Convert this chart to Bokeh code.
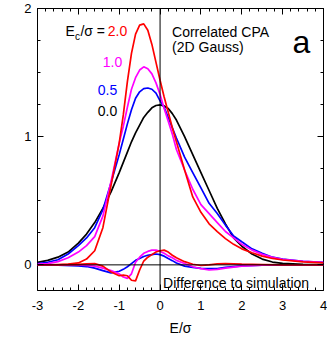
import math
from bokeh.plotting import figure
from bokeh.models import Range1d, Span, Label, LinearAxis, SingleIntervalTicker
from bokeh.embed import file_html
from bokeh.resources import INLINE

# ---- data ----
E_od = [-3.0, -2.75, -2.5, -2.25, -2.0, -1.8, -1.6, -1.4, -1.2, -1.0, -0.9, -0.8, -0.7,
        -0.6, -0.5, -0.4, -0.3, -0.2, -0.1, 0.0, 0.1, 0.2, 0.3, 0.4, 0.6, 0.8, 1.0,
        1.2, 1.4, 1.6, 1.8, 2.0, 2.25, 2.5, 2.75, 3.0, 3.5, 4.0]

od_ec00 = [0.02, 0.035, 0.06, 0.10, 0.17, 0.24, 0.33, 0.44, 0.57, 0.72, 0.80, 0.88, 0.96,
           1.03, 1.09, 1.15, 1.19, 1.225, 1.243, 1.248, 1.24, 1.22, 1.18, 1.13, 1.00, 0.86, 0.72,
           0.58, 0.44, 0.32, 0.21, 0.145, 0.085, 0.045, 0.022, 0.012, 0.004, 0.002]

od_ec05 = [0.01, 0.02, 0.04, 0.085, 0.15, 0.21, 0.29, 0.43, 0.64, 0.86, 0.98, 1.10, 1.21,
           1.30, 1.35, 1.375, 1.38, 1.37, 1.34, 1.28, 1.23, 1.15, 1.07, 0.99, 0.84, 0.72, 0.60,
           0.48, 0.40, 0.31, 0.225, 0.18, 0.125, 0.09, 0.06, 0.045, 0.028, 0.02]

od_ec10 = [0.005, 0.01, 0.025, 0.055, 0.10, 0.15, 0.22, 0.38, 0.65, 0.95, 1.08, 1.23, 1.37,
           1.46, 1.52, 1.545, 1.53, 1.49, 1.42, 1.33, 1.22, 1.12, 1.02, 0.90, 0.74, 0.59, 0.47,
           0.40, 0.33, 0.26, 0.21, 0.16, 0.115, 0.082, 0.058, 0.043, 0.028, 0.02]

od_ec20 = [0.0, 0.0, 0.003, 0.006, 0.015, 0.045, 0.11, 0.29, 0.62, 0.95, 1.17, 1.43, 1.65,
           1.80, 1.87, 1.88, 1.83, 1.72, 1.58, 1.44, 1.31, 1.19, 1.07, 0.96, 0.74, 0.53, 0.41,
           0.32, 0.26, 0.205, 0.16, 0.125, 0.095, 0.068, 0.05, 0.038, 0.024, 0.016]

E_diff = [-3.0, -2.5, -2.0, -1.8, -1.6, -1.4, -1.2, -1.0, -0.9, -0.8, -0.7, -0.6, -0.5,
          -0.4, -0.3, -0.2, -0.1, 0.0, 0.1, 0.2, 0.3, 0.4, 0.6, 0.8, 1.0, 1.2, 1.4, 1.6,
          2.0, 2.5, 3.0, 4.0]

diff_ec20 = [0, 0, 0.004, 0.008, 0.01, -0.01, -0.055, -0.085, -0.08, -0.085, -0.12, -0.125, -0.04,
             0.03, 0.06, 0.08, 0.10, 0.11, 0.115, 0.10, 0.075, 0.055, 0.025, 0.005, -0.005, 0.0, 0.008, 0.01,
             0.006, 0.003, 0, 0]
diff_ec10 = [0, 0, 0, -0.005, -0.01, -0.025, -0.045, -0.07, -0.095, -0.105, -0.07, 0.02, 0.06,
             0.09, 0.105, 0.115, 0.115, 0.105, 0.09, 0.07, 0.055, 0.035, 0.01, -0.015, -0.03, -0.04, -0.035, -0.025,
             -0.01, -0.003, 0, 0]
diff_ec05 = [0, -0.002, -0.008, -0.013, -0.025, -0.045, -0.063, -0.05, -0.035, -0.015, 0.01, 0.035, 0.05,
             0.065, 0.075, 0.08, 0.085, 0.08, 0.068, 0.05, 0.033, 0.015, -0.01, -0.02, -0.027, -0.03, -0.03, -0.02,
             -0.008, -0.003, 0, 0]

ec_labels = ["2.0", "1.0", "0.5", "0.0"]
ec_colors = ["#ff0000", "#ff00ff", "#0000ff", "#000000"]
ec_label_x = [-0.805, -0.927, -1.049, -1.049]
ec_label_y = [1.802, 1.556, 1.341, 1.18]
x_tick_text = {-3: "-3", -2: "-2", -1: "-1", 0: "0", 1: "1", 2: "2", 3: "3", 4: "4"}

FONT = "Liberation Sans"

p = figure(width=327, height=338, x_range=Range1d(-3, 4), y_range=Range1d(-0.2, 2),
           output_backend="svg", toolbar_location=None,
           min_border_left=37, min_border_right=4, min_border_top=8, min_border_bottom=46)
p.grid.visible = False
p.outline_line_color = "black"
p.outline_line_width = 1
p.background_fill_color = "white"
p.border_fill_color = "white"

p.xaxis.ticker = SingleIntervalTicker(interval=1, num_minor_ticks=5)
p.yaxis.ticker = SingleIntervalTicker(interval=1, num_minor_ticks=4)
p.xaxis.major_label_overrides = x_tick_text

for ax in [p.xaxis[0], p.yaxis[0]]:
    ax.axis_line_color = None
    ax.major_tick_in = 6
    ax.major_tick_out = 0
    ax.minor_tick_in = 3
    ax.minor_tick_out = 0
    ax.major_tick_line_color = "black"
    ax.minor_tick_line_color = "black"
    ax.major_label_text_font = FONT
    ax.major_label_text_font_size = "13px"
    ax.major_label_text_color = "black"
p.xaxis.major_label_standoff = 10
p.yaxis.major_label_standoff = 6
p.xaxis.axis_label = "E/σ"
p.xaxis.axis_label_text_font = FONT
p.xaxis.axis_label_text_font_size = "14px"
p.xaxis.axis_label_text_font_style = "normal"
p.xaxis.axis_label_text_color = "black"
p.xaxis.axis_label_standoff = 7

top = LinearAxis(ticker=SingleIntervalTicker(interval=1, num_minor_ticks=5))
right = LinearAxis(ticker=SingleIntervalTicker(interval=1, num_minor_ticks=4))
for ax in [top, right]:
    ax.axis_line_color = None
    ax.major_tick_in = 6
    ax.major_tick_out = 0
    ax.minor_tick_in = 3
    ax.minor_tick_out = 0
    ax.major_label_text_font_size = "1px"
    ax.major_label_text_color = None
    ax.major_label_standoff = 0
p.add_layout(top, "above")
p.add_layout(right, "right")

# reference lines
p.add_layout(Span(location=0, dimension="width", line_color="black", line_width=1))
p.add_layout(Span(location=0, dimension="height", line_color="black", line_width=1))

LW = 1.7
p.line(E_od, od_ec00, line_color="#000000", line_width=LW)
p.line(E_od, od_ec05, line_color="#0000ff", line_width=LW)
p.line(E_od, od_ec10, line_color="#ff00ff", line_width=LW)
p.line(E_od, od_ec20, line_color="#ff0000", line_width=LW)
p.line(E_diff, diff_ec05, line_color="#0000ff", line_width=LW)
p.line(E_diff, diff_ec10, line_color="#ff00ff", line_width=LW)
p.line(E_diff, diff_ec20, line_color="#ff0000", line_width=LW)

def lab(x, y, text, color="black", size=14, align="left", baseline="alphabetic", **kw):
    if baseline == "alphabetic":
        kw.setdefault("y_offset", round(0.21 * size))
    p.add_layout(Label(x=x, y=y, text=text, text_color=color, text_font=FONT,
                       text_font_size=f"{size}px", text_align=align, text_baseline=baseline, **kw))

# legend-like labels
for t, c, x, y in zip(ec_labels, ec_colors, ec_label_x, ec_label_y):
    lab(x, y, t, color=c, align="right")
lab(-2.317, 1.802, "E")
lab(-2.08, 1.765, "c", size=10)
lab(-1.95, 1.802, "/σ =")

lab(0.293, 1.79, "Correlated CPA")
lab(0.293, 1.68, "(2D Gauss)")
lab(3.24, 1.685, "a", size=32)
lab(0.073, -0.164, "Difference to simulation")

# y axis title placed like the reference
lab(-3, 1.346, "OD", align="center", baseline="middle", angle=math.pi / 2, x_offset=-29)

open("out.html", "w").write(file_html(p, INLINE))
